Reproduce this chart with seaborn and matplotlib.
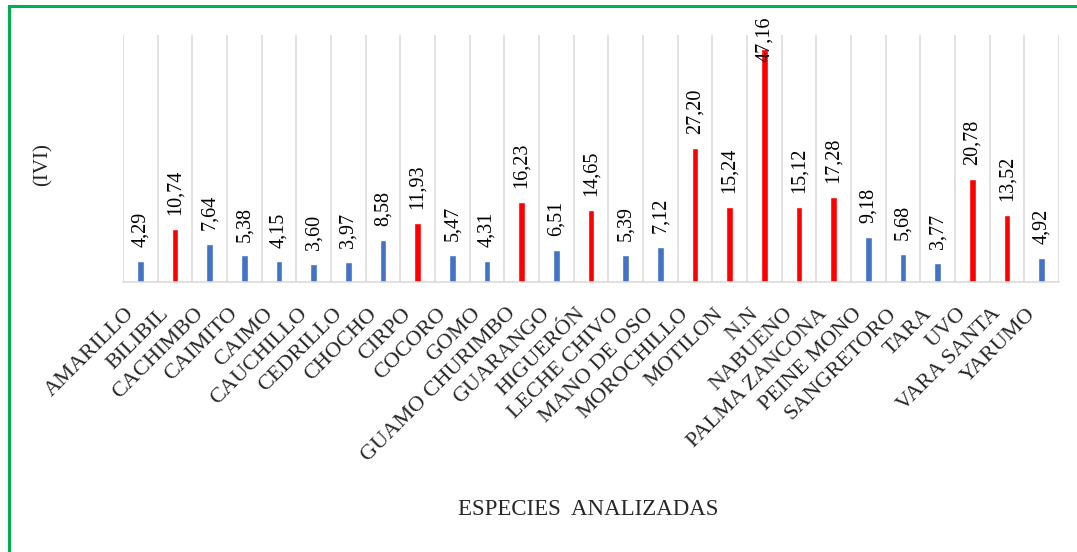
import matplotlib
matplotlib.use("Agg")
import matplotlib.pyplot as plt
import matplotlib.transforms as mtransforms
from matplotlib.patches import Rectangle
import seaborn as sns
import pandas as pd

species = ["AMARILLO", "BILIBIL", "CACHIMBO", "CAIMITO", "CAIMO", "CAUCHILLO",
           "CEDRILLO", "CHOCHO", "CIRPO", "COCORO", "GOMO", "GUAMO CHURIMBO",
           "GUARANGO", "HIGUERÓN", "LECHE CHIVO", "MANO DE OSO", "MOROCHILLO",
           "MOTILON", "N.N", "NABUENO", "PALMA ZANCONA", "PEINE MONO",
           "SANGRETORO", "TARA", "UVO", "VARA SANTA", "YARUMO"]
ivi = [4.29, 10.74, 7.64, 5.38, 4.15, 3.60, 3.97, 8.58, 11.93, 5.47, 4.31, 16.23,
       6.51, 14.65, 5.39, 7.12, 27.20, 15.24, 47.16, 15.12, 17.28, 9.18, 5.68,
       3.77, 20.78, 13.52, 4.92]
groups = ["alto" if v >= 10 else "bajo" for v in ivi]
palette = {"bajo": "#4472C4", "alto": "#FF0000"}

df = pd.DataFrame({"especie": species, "ivi": ivi, "grupo": groups})

sns.set_theme(style="white")
plt.rcParams["font.family"] = ["Liberation Serif", "DejaVu Serif"]

fig = plt.figure(figsize=(10.77, 5.52), dpi=100)
ax = fig.add_axes([123 / 1077, 1 - 282 / 552, (1059 - 123) / 1077, (282 - 35) / 552])

sns.barplot(data=df, x="especie", y="ivi", hue="grupo", palette=palette,
            width=0.2, dodge=False, legend=False, ax=ax, saturation=1)

ax.set_xlim(-0.5, len(species) - 0.5)
ax.set_ylim(0, 50)
ax.set_yticks([])
ax.set_xticks(range(len(species)))
ax.set_xticks([i - 0.5 for i in range(len(species) + 1)], minor=True)
ax.grid(which="minor", axis="x", color="#D9D9D9", linewidth=1.1)
ax.grid(which="major", visible=False)
ax.tick_params(axis="x", which="both", length=0, pad=21)
for s in ["left", "right", "top"]:
    ax.spines[s].set_visible(False)
ax.spines["bottom"].set_color("#D9D9D9")
ax.spines["bottom"].set_linewidth(1.1)

ax.set_xticklabels(species, rotation=45, ha="right", va="center",
                   rotation_mode="anchor", fontsize=16)
shift = mtransforms.ScaledTranslation(-9 / 100, 0, fig.dpi_scale_trans)
for lab in ax.get_xticklabels():
    lab.set_transform(lab.get_transform() + shift)

for i, v in enumerate(ivi):
    off = 10 if v < 40 else -9
    ax.annotate(f"{v:.2f}".replace(".", ","), (i, v), xytext=(0, off),
                textcoords="offset points", rotation=90, ha="center",
                va="bottom", fontsize=14.5, color="#000000", annotation_clip=False)

ax.set_xlabel("ESPECIES  ANALIZADAS", fontsize=16.5, labelpad=0)
ax.xaxis.set_label_coords(0.497, -0.88)
ax.set_ylabel("")
fig.text(43 / 1077, 1 - 165 / 552, "(IVI)", rotation=90, ha="center", va="center",
         fontsize=15)

fig.add_artist(Rectangle((9 / 1077, -0.1), 1.2, 1.1 - 6 / 552, transform=fig.transFigure,
                         fill=False, edgecolor="#00B050", linewidth=2.2, clip_on=False))

fig.savefig("out.png", dpi=100)
